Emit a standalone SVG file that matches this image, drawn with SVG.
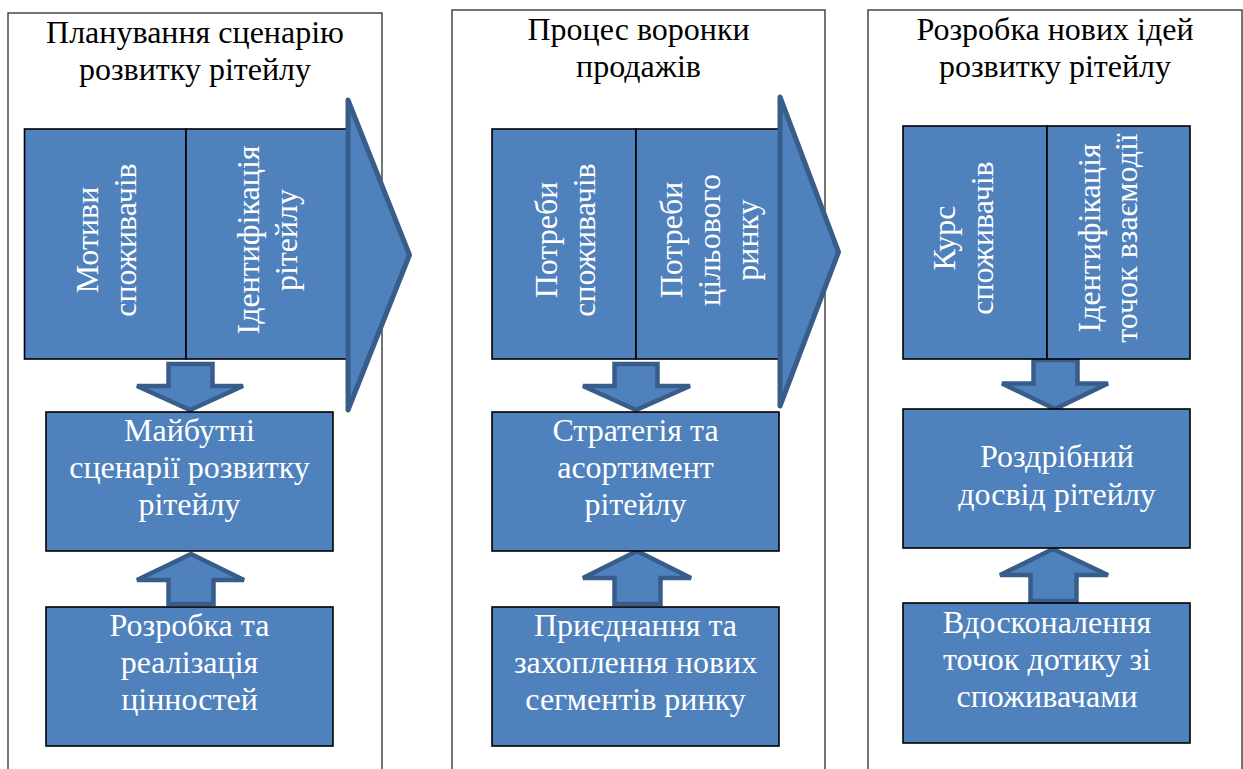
<svg xmlns="http://www.w3.org/2000/svg" width="1243" height="769" viewBox="0 0 1243 769" font-family="Liberation Serif, DejaVu Serif, serif">
<style>
.frame{fill:#fff;stroke:#3a3a3a;stroke-width:1.4}
.box{fill:#4f81bd;stroke:#000;stroke-width:1.6}
.arr{fill:#4f81bd;stroke:#385d8a;stroke-width:4.5;stroke-linejoin:miter}
.big{fill:#4f81bd;stroke:#385d8a;stroke-width:5;stroke-linejoin:round}
.t{font-size:32px;text-anchor:middle}
.title{fill:#000}
.w{fill:#fff}
</style>
<rect width="1243" height="769" fill="#fff"/>

<g id="frame1"><rect class="frame" x="8" y="13" width="374" height="780"/>
<text class="t title" x="195" y="43" font-family="Liberation Serif, serif">Планування сценарію</text>
<text class="t title" x="195" y="80" font-family="Liberation Serif, serif">розвитку рітейлу</text></g>
<g id="frame2"><rect class="frame" x="452" y="10" width="373" height="780"/>
<text class="t title" x="638.5" y="40" font-family="Liberation Serif, serif">Процес воронки</text>
<text class="t title" x="638.5" y="77" font-family="Liberation Serif, serif">продажів</text></g>
<g id="frame3"><rect class="frame" x="868" y="10" width="374" height="780"/>
<text class="t title" x="1055" y="40" font-family="Liberation Serif, serif">Розробка нових ідей</text>
<text class="t title" x="1055" y="77" font-family="Liberation Serif, serif">розвитку рітейлу</text></g>

<g id="connectors">
<path class="arr" d="M168.5,364 H212.5 V386 H243 L190,410 L137,386 H168.5 Z"/>
<path class="arr" d="M168.5,604 V580 H137 L191,554 L244,580 H213.5 V604 Z"/>
<path class="arr" d="M614.5,364 H657.5 V386 H690 L636,410 L583,386 H614.5 Z"/>
<path class="arr" d="M614.5,604 V578 H583 L637,551 L691,578 H660.5 V604 Z"/>
<path class="arr" d="M1033.5,360 H1077.5 V383.5 H1108 L1055,409 L1002,383.5 H1033.5 Z"/>
<path class="arr" d="M1030.5,601 V575 H1000 L1053,549 L1108,575 H1076.5 V601 Z"/>
</g>

<g id="n1a" font-family="Liberation Serif, serif"><rect class="box" x="24.5" y="129" width="161.5" height="230"/>
<text class="t w" transform="translate(98,240) rotate(-90)">Мотиви</text>
<text class="t w" transform="translate(136,240) rotate(-90)">споживачів</text></g>
<g id="n1b" font-family="Liberation Serif, serif"><rect class="box" x="186" y="129" width="164" height="230"/>
<text class="t w" transform="translate(259,240) rotate(-90)">Ідентифікація</text>
<text class="t w" transform="translate(297,240) rotate(-90)">рітейлу</text></g>
<g id="arrow1"><path class="big" d="M348,100 L409.5,255 L348,410 Z"/></g>
<g id="n1c" font-family="Liberation Serif, serif"><rect class="box" x="46" y="412" width="287" height="139"/>
<text class="t w" x="189.5" y="441">Майбутні</text>
<text class="t w" x="189.5" y="478">сценарії розвитку</text>
<text class="t w" x="189.5" y="515">рітейлу</text></g>
<g id="n1d" font-family="Liberation Serif, serif"><rect class="box" x="46" y="607" width="287" height="139"/>
<text class="t w" x="189.5" y="636">Розробка та</text>
<text class="t w" x="189.5" y="673">реалізація</text>
<text class="t w" x="189.5" y="710">цінностей</text></g>

<g id="n2a" font-family="Liberation Serif, serif"><rect class="box" x="492" y="129" width="144" height="230"/>
<text class="t w" transform="translate(557,240) rotate(-90)">Потреби</text>
<text class="t w" transform="translate(595,240) rotate(-90)">споживачів</text></g>
<g id="n2b" font-family="Liberation Serif, serif"><rect class="box" x="636" y="129" width="145" height="230"/>
<text class="t w" transform="translate(682,240) rotate(-90)">Потреби</text>
<text class="t w" transform="translate(720,240) rotate(-90)">цільового</text>
<text class="t w" transform="translate(758,240) rotate(-90)">ринку</text></g>
<g id="arrow2"><path class="big" d="M780,97 L838.5,252 L780,406 Z"/></g>
<g id="n2c" font-family="Liberation Serif, serif"><rect class="box" x="492" y="412" width="287" height="139"/>
<text class="t w" x="635.5" y="441">Стратегія та</text>
<text class="t w" x="635.5" y="478">асортимент</text>
<text class="t w" x="635.5" y="515">рітейлу</text></g>
<g id="n2d" font-family="Liberation Serif, serif"><rect class="box" x="492" y="607" width="287" height="139"/>
<text class="t w" x="635.5" y="636">Приєднання та</text>
<text class="t w" x="635.5" y="673">захоплення нових</text>
<text class="t w" x="635.5" y="710">сегментів ринку</text></g>

<g id="n3a" font-family="Liberation Serif, serif"><rect class="box" x="903" y="126" width="144" height="233"/>
<text class="t w" transform="translate(955,238) rotate(-90)">Курс</text>
<text class="t w" transform="translate(993,238) rotate(-90)">споживачів</text></g>
<g id="n3b" font-family="Liberation Serif, serif"><rect class="box" x="1047" y="126" width="143" height="233"/>
<text class="t w" transform="translate(1100,238) rotate(-90)">Ідентифікація</text>
<text class="t w" transform="translate(1137,238) rotate(-90)">точок взаємодії</text></g>
<g id="n3c" font-family="Liberation Serif, serif"><rect class="box" x="903" y="409" width="287" height="139"/>
<text class="t w" x="1057" y="467">Роздрібний</text>
<text class="t w" x="1057" y="505">досвід рітейлу</text></g>
<g id="n3d" font-family="Liberation Serif, serif"><rect class="box" x="903" y="603" width="287" height="140"/>
<text class="t w" x="1047" y="633">Вдосконалення</text>
<text class="t w" x="1047" y="670">точок дотику зі</text>
<text class="t w" x="1047" y="707">споживачами</text></g>
</svg>
